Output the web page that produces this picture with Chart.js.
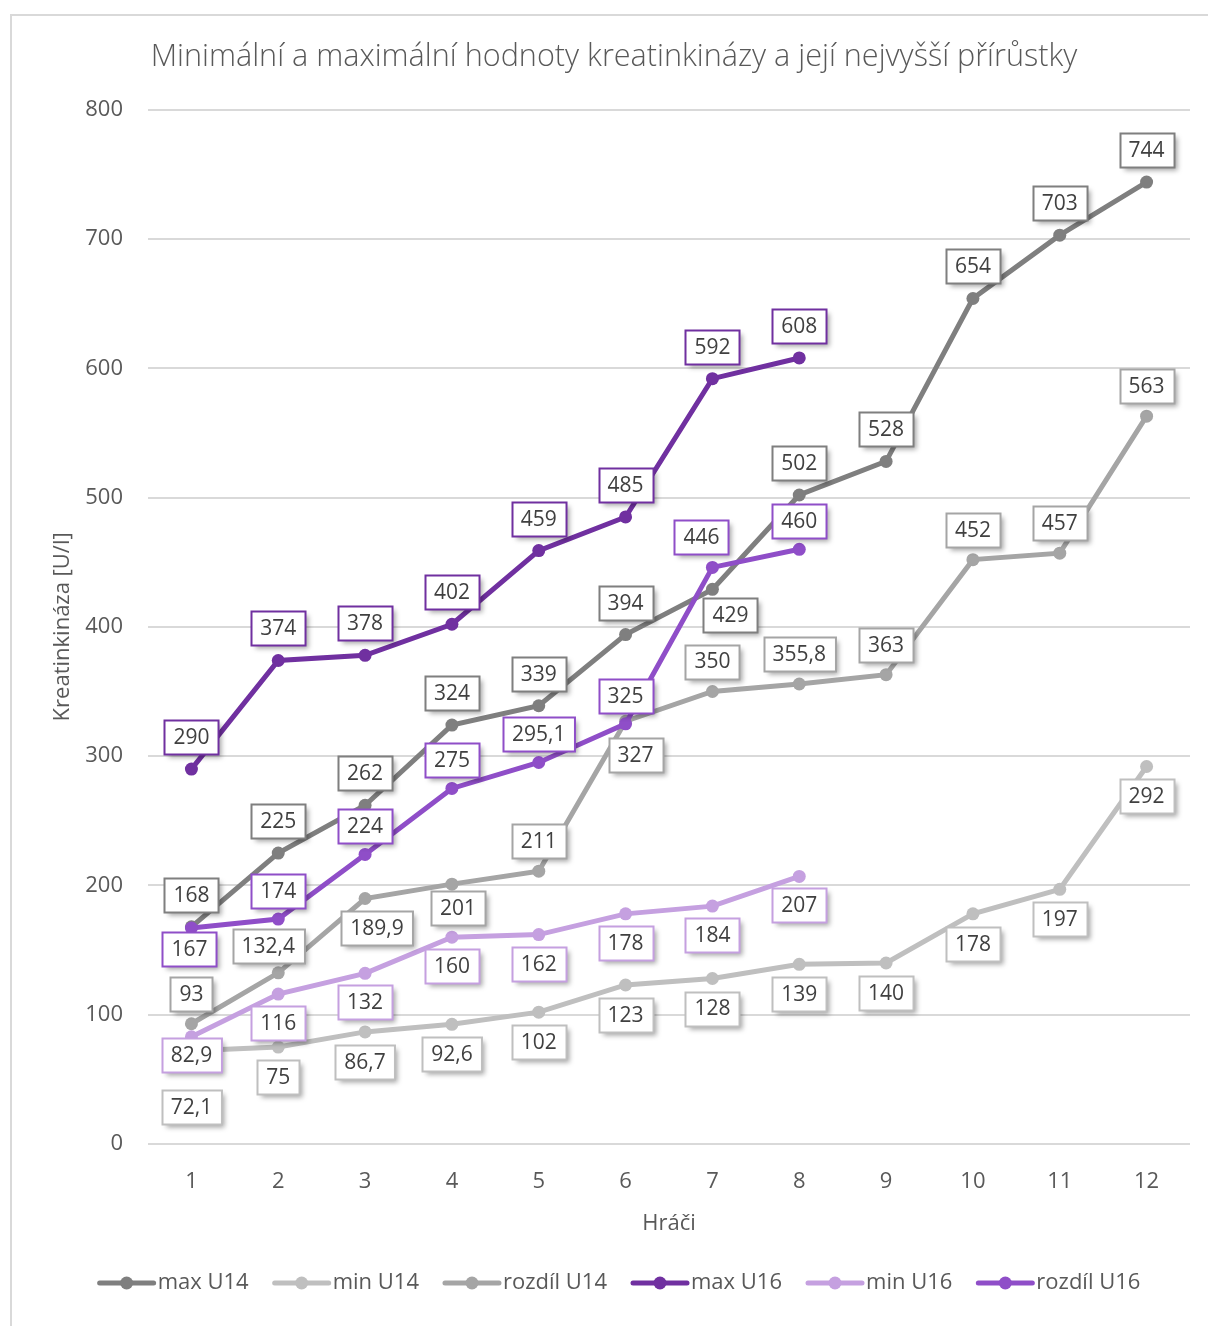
<!DOCTYPE html>
<html>
<head>
<meta charset="utf-8">
<script src="https://cdn.jsdelivr.net/npm/chart.js@4/dist/chart.umd.min.js"></script>
<style>
  body { margin: 0; background: #fff; }
  #frame { position: absolute; left: 10px; top: 14px; width: 1220px; height: 1330px; border: 2px solid #d9d9d9; box-sizing: border-box; }
  #wrap { position: absolute; left: 0; top: 0; width: 1208px; height: 1326px; }
</style>
</head>
<body>
<div id="frame"></div>
<div id="wrap"><canvas id="chart" width="1208" height="1326"></canvas></div>
<script>
// chart data
const players = ['1', '2', '3', '4', '5', '6', '7', '8', '9', '10', '11', '12'];
const maxU14 = [168, 225, 262, 324, 339, 394, 429, 502, 528, 654, 703, 744];
const minU14 = [72.1, 75, 86.7, 92.6, 102, 123, 128, 139, 140, 178, 197, 292];
const diffU14 = [93, 132.4, 189.9, 201, 211, 327, 350, 355.8, 363, 452, 457, 563];
const maxU16 = [290, 374, 378, 402, 459, 485, 592, 608];
const minU16 = [82.9, 116, 132, 160, 162, 178, 184, 207];
const diffU16 = [167, 174, 224, 275, 295.1, 325, 446, 460];
const yTicks = [0, 100, 200, 300, 400, 500, 600, 700, 800];

const seriesNames = ['max U14', 'min U14', 'rozdíl U14', 'max U16', 'min U16', 'rozdíl U16'];
const seriesData = [maxU14, minU14, diffU14, maxU16, minU16, diffU16];
const seriesColors = ['#7f7f7f', '#bfbfbf', '#a5a5a5', '#7030a0', '#c5a0e0', '#8f4ec8'];

// where the value boxes sit relative to their point: default offset + a few hand-placed ones
const labelPlace = [
  { dy: -32, moved: { 6: [18, 26] } },
  { dy: 30, moved: { 0: [0, 56] } },
  { dy: -30, moved: { 1: [-10, -27], 2: [12, 30], 3: [6, 24], 5: [10, 34] } },
  { dy: -32, moved: {} },
  { dy: 29, moved: { 0: [0, 18] } },
  { dy: -28, moved: { 0: [-2, 21], 6: [-11, -30] } }
];

const textColor = '#595959';
const fontFamily = '"Open Sans", "Noto Sans", sans-serif';

function fmt(v) {
  return String(v).replace('.', ',');
}

const valueBoxes = {
  id: 'valueBoxes',
  afterDatasetsDraw(chart) {
    const ctx = chart.ctx;
    ctx.save();
    ctx.font = '21px ' + fontFamily;
    ctx.textAlign = 'center';
    ctx.textBaseline = 'middle';
    chart.data.datasets.forEach((ds, di) => {
      const meta = chart.getDatasetMeta(di);
      const place = labelPlace[di];
      meta.data.forEach((pt, i) => {
        const v = ds.data[i];
        if (v == null) return;
        const off = place.moved[i] || [0, place.dy];
        const txt = fmt(v);
        const w = ctx.measureText(txt).width + 18;
        const h = 34;
        const cx = pt.x + off[0];
        const cy = pt.y + off[1];
        const x = Math.round(cx - w / 2) + 0.5;
        const y = Math.round(cy - h / 2) + 0.5;
        ctx.save();
        ctx.shadowColor = 'rgba(0,0,0,0.35)';
        ctx.shadowBlur = 5;
        ctx.shadowOffsetX = 3;
        ctx.shadowOffsetY = 3;
        ctx.fillStyle = '#fff';
        ctx.fillRect(x, y, w, h);
        ctx.restore();
        ctx.strokeStyle = ds.borderColor;
        ctx.lineWidth = 2;
        ctx.strokeRect(x, y, w, h);
        ctx.fillStyle = '#404040';
        ctx.fillText(txt, cx, cy + 1);
      });
    });
    ctx.restore();
  }
};

// legend drawn by hand: line + dot sample right next to the name
const lineLegend = {
  id: 'lineLegend',
  afterDraw(chart) {
    const ctx = chart.ctx;
    const sample = 58, gap = 2, itemGap = 24, centerX = 619, y = 1283;
    ctx.save();
    ctx.font = '22px ' + fontFamily;
    ctx.textBaseline = 'middle';
    const items = chart.data.datasets.map(ds => ({ ds, w: ctx.measureText(ds.label).width }));
    const total = items.reduce((s, it) => s + sample + gap + it.w, 0) + itemGap * (items.length - 1);
    let x = centerX - total / 2;
    items.forEach(it => {
      const c = it.ds.borderColor;
      ctx.strokeStyle = c;
      ctx.lineWidth = 5;
      ctx.lineCap = 'round';
      ctx.beginPath();
      ctx.moveTo(x + 2, y);
      ctx.lineTo(x + sample - 2, y);
      ctx.stroke();
      ctx.fillStyle = c;
      ctx.beginPath();
      ctx.arc(x + sample / 2, y, 6.5, 0, Math.PI * 2);
      ctx.fill();
      ctx.fillStyle = textColor;
      ctx.fillText(it.ds.label, x + sample + gap, y);
      x += sample + gap + it.w + itemGap;
    });
    ctx.restore();
  }
};

const datasets = seriesNames.map((name, i) => ({
  label: name,
  data: seriesData[i],
  borderColor: seriesColors[i],
  backgroundColor: seriesColors[i],
  borderWidth: 5,
  pointRadius: 6.5,
  pointHoverRadius: 6.5,
  pointBorderWidth: 0,
  pointStyle: 'circle',
  tension: 0,
  order: seriesNames.length - i
}));

const ctx = document.getElementById('chart').getContext('2d');
const chart = new Chart(ctx, {
  type: 'line',
  data: { labels: players, datasets: datasets },
  options: {
    responsive: false,
    animation: false,
    devicePixelRatio: 1,
    layout: { padding: { left: 38, right: 18, top: 0, bottom: 82 } },
    plugins: {
      tooltip: { enabled: false },
      legend: { display: false },
      title: {
        display: true,
        text: 'Minimální a maximální hodnoty kreatinkinázy a její nejvyšší přírůstky',
        color: textColor,
        font: { family: fontFamily, size: 30.6, weight: '300' },
        padding: { top: 39, bottom: 34 }
      }
    },
    scales: {
      x: {
        offset: true,
        afterFit(scale) {
          scale.height = 100;
        },
        grid: { display: false, drawTicks: false },
        border: { display: false },
        ticks: { color: textColor, font: { family: fontFamily, size: 22 }, padding: 25 },
        title: {
          display: true,
          text: 'Hráči',
          color: textColor,
          font: { family: fontFamily, size: 22 },
          padding: { top: 2, bottom: 7 }
        }
      },
      y: {
        min: 0,
        max: 800,
        afterBuildTicks(scale) {
          scale.ticks = yTicks.map(v => ({ value: v }));
        },
        afterFit(scale) {
          scale.width = 110;
        },
        grid: { color: '#d9d9d9', lineWidth: 2, drawTicks: false },
        border: { display: false },
        ticks: { color: textColor, font: { family: fontFamily, size: 22 }, padding: 25 },
        title: {
          display: true,
          text: 'Kreatinkináza [U/l]',
          color: textColor,
          font: { family: fontFamily, size: 22 },
          padding: { top: 12, bottom: 0 }
        }
      }
    }
  },
  plugins: [valueBoxes, lineLegend]
});
</script>
</body>
</html>
